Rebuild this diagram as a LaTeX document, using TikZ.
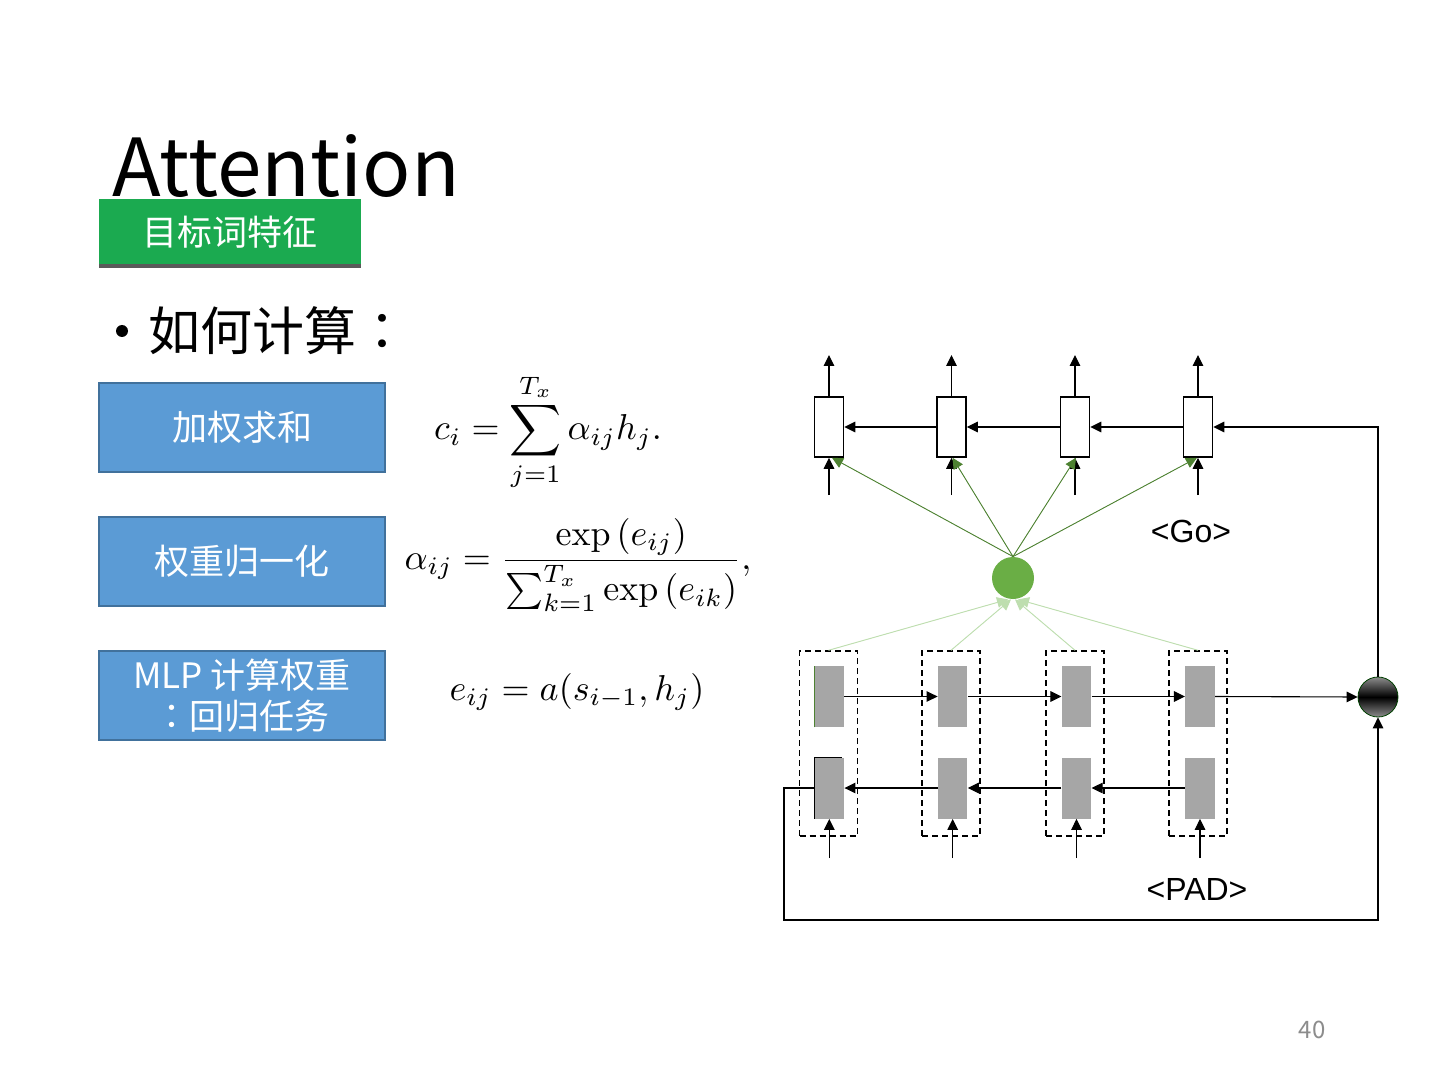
\documentclass[tikz,border=0pt]{standalone}
\usepackage[no-math]{fontspec}
\setmainfont{Noto Sans CJK SC}
\newfontfamily\tcfont{Noto Sans CJK TC}
\newfontfamily\arialf{Liberation Sans}
\usetikzlibrary{arrows.meta,shadings}
\definecolor{boxgreen}{RGB}{27,170,80}
\definecolor{boxshadow}{RGB}{90,90,90}
\definecolor{boxblue}{RGB}{91,155,213}
\definecolor{boxblueedge}{RGB}{65,113,156}
\definecolor{cellgray}{RGB}{166,166,166}
\definecolor{attgreen}{RGB}{106,174,69}
\definecolor{attline}{RGB}{78,130,50}
\definecolor{attlight}{RGB}{190,222,175}
\definecolor{pagegray}{RGB}{140,140,140}
\tikzset{
  tip/.tip={Triangle[length=5.5pt,width=5.3pt]},
  dec/.style={draw=black, line width=0.75pt, fill=white, minimum width=14.5pt, minimum height=30pt, inner sep=0pt},
  cell/.style={fill=cellgray, minimum width=14.75pt, minimum height=30.5pt, inner sep=0pt},
  grp/.style={draw=black, dash pattern=on 3pt off 2pt, line width=0.7pt, minimum width=29pt, minimum height=92.5pt, inner sep=0pt},
  conn/.style={draw=black, line width=0.55pt, -tip},
  attn/.style={draw=attline, fill=attline, line width=0.45pt, -tip},
  attin/.style={draw=attlight, fill=attlight, line width=0.45pt, -tip},
  bluebox/.style={fill=boxblue, draw=boxblueedge, line width=0.6pt, minimum width=143pt, minimum height=44.5pt, inner sep=0pt, text=white, font=\fontsize{17.5}{20.5}\selectfont, align=center},
  eq/.style={inner sep=0pt, scale=1.8}
}
\begin{document}
\begin{tikzpicture}[x=0.5pt,y=-0.5pt]
\useasboundingbox (0,0) rectangle (1440,1080);
\fill[white] (0,0) rectangle (1440,1080);

% title
\node[anchor=base west, inner sep=0pt, font=\fontsize{40}{48}\selectfont] (title) at (112,197) {Attention};
% green tag
\fill[boxshadow] (99,203) rectangle (361,268.5);
\node[fill=boxgreen, minimum width=131pt, minimum height=32.5pt, inner sep=0pt, anchor=north west, text=white, font=\fontsize{17.5}{20}\selectfont] (tag) at (99,199) {目标词特征};
% bullet
\fill[black] (122,331) circle (6);
\node[anchor=base west, inner sep=0pt, font=\fontsize{26}{30}\selectfont] (howto) at (148,351) {如何计算{\tcfont ：}};

% blue boxes
\node[bluebox] (s1) at (242,427.5) {加权求和};
\node[bluebox] (s2) at (242,561.5) {权重归一化};
\node[bluebox] (s3) at (242,695.5) {MLP 计算权重\\{\tcfont ：}回归任务};

% formulas
\node[eq] (e1) at (548,432) {$\displaystyle c_i=\sum_{j=1}^{T_x}\alpha_{ij}h_j.$};
\node[eq] (e2) at (578,565) {$\displaystyle \alpha_{ij}=\frac{\exp\left(e_{ij}\right)}{\sum_{k=1}^{T_x}\exp\left(e_{ik}\right)},$};
\node[eq] (e3) at (577,692) {$\displaystyle e_{ij}=a(s_{i-1},h_j)$};

% decoder boxes
\node[dec] (d1) at (829,427) {};
\node[dec] (d2) at (951.5,427) {};
\node[dec] (d3) at (1075,427) {};
\node[dec] (d4) at (1198,427) {};
\foreach \i/\x in {1/829,2/951.5,3/1075,4/1198}{
  \coordinate (u\i) at (\x,355);
  \coordinate (i\i) at (\x,495);
  \draw[conn] (d\i.north) -- (u\i);
  \draw[conn] (i\i) -- (d\i.south);
}
\draw[conn] (d2.west) -- (d1.east);
\draw[conn] (d3.west) -- (d2.east);
\draw[conn] (d4.west) -- (d3.east);

% encoder groups
\foreach \i/\x in {1/828.5,2/951,3/1075,4/1198}{
  \node[grp] (g\i) at (\x,743.5) {};
}
\foreach \i/\x in {1/829.3,2/952.7,3/1076.5,4/1200}{
  \node[cell] (f\i) at (\x,696.5) {};
  \node[cell] (b\i) at (\x,788) {};
  \coordinate (p\i) at (\x,858);
  \draw[conn] (p\i) -- (b\i.south);
}
\draw[attline, line width=0.4pt] (f1.south west) -- (f1.north west);
\draw[black, line width=0.5pt] (b1.south west) -- (b1.north west) -- ([xshift=-1pt]b1.north east);

% attention node and combiner
\node[circle, fill=attgreen, minimum size=21pt, inner sep=0pt] (att) at (1013,578) {};
\node[circle, minimum size=20pt, inner sep=0pt, draw=black!75!green, line width=0.4pt,
      top color=black!45, bottom color=black!45, middle color=black] (mix) at (1378,697) {};

\draw[conn] (f1.east) -- (f2.west);
\draw[conn] (f2.east) -- (f3.west);
\draw[conn] (f3.east) -- (f4.west);
\draw[conn] (f4.east) -- (mix.west);
\draw[conn] (b2.west) -- (b1.east);
\draw[conn] (b3.west) -- (b2.east);
\draw[conn] (b4.west) -- (b3.east);

\coordinate (lc) at (784,920);
\draw[conn] (b1.west) -| (lc) -| (mix.south);
\draw[conn] (mix.north) |- (d4.east);

% attention connectors
\draw[attin] (g1.north) -- ([xshift=-2.5pt]att.south);
\draw[attin] (g2.north) -- ([xshift=-1pt]att.south);
\draw[attin] (g3.north) -- ([xshift=1pt]att.south);
\draw[attin] (g4.north) -- ([xshift=2.5pt]att.south);
\draw[attn] (att.north) -- ([xshift=1.5pt]d1.south);
\draw[attn] (att.north) -- ([xshift=0.5pt]d2.south);
\draw[attn] (att.north) -- ([xshift=0.5pt]d3.south);
\draw[attn] (att.north) -- ([xshift=-0.5pt]d4.south);

% labels
\node[font=\arialf\fontsize{16}{18}\selectfont, inner sep=0pt] (go) at (1191,531) {<Go>};
\node[font=\arialf\fontsize{16}{18}\selectfont, inner sep=0pt] (pad) at (1197,889) {<PAD>};
\node[font=\fontsize{12}{14}\selectfont, text=pagegray, inner sep=0pt] (pg) at (1312,1030) {40};
\end{tikzpicture}
\end{document}
